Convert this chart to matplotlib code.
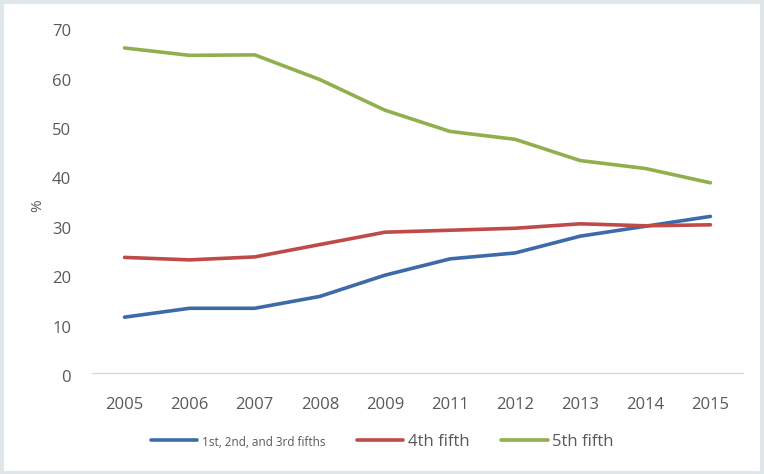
import matplotlib
matplotlib.use("Agg")
import matplotlib.pyplot as plt
import matplotlib.transforms as mtransforms
from matplotlib.patches import Rectangle

years = ["2005", "2006", "2007", "2008", "2009", "2011", "2012", "2013", "2014", "2015"]
lower_three = [11.3, 13.1, 13.1, 15.5, 19.8, 23.1, 24.3, 27.7, 29.7, 31.7]
fourth = [23.4, 22.9, 23.5, 26.0, 28.5, 28.9, 29.3, 30.2, 29.8, 30.0]
fifth = [65.8, 64.3, 64.4, 59.4, 53.2, 48.9, 47.3, 43.0, 41.4, 38.5]

series_names = ["1st, 2nd, and 3rd fifths", "4th fifth", "5th fifth"]
colors = ["#3d6aa8", "#be4b48", "#8fb04c"]
yticks = [0, 10, 20, 30, 40, 50, 60, 70]

plt.rcParams["font.family"] = ["Open Sans", "DejaVu Sans"]
text_color = "#595959"

fig = plt.figure(figsize=(7.64, 4.74), dpi=100)
ax = fig.add_axes([0.1204, 0.2131, 0.8521, 0.7295])

x = range(len(years))
for vals, name, col in zip([lower_three, fourth, fifth], series_names, colors):
    ax.plot(x, vals, color=col, lw=2.6, label=name, solid_capstyle="round",
            solid_joinstyle="round")

ax.set_xlim(-0.5, len(years) - 0.5)
ax.set_ylim(0, 70)
ax.set_xticks(list(x))
ax.set_xticklabels(years)
ax.set_yticks(yticks)
ax.set_yticklabels([str(v) for v in yticks])
ax.tick_params(axis="both", length=0, colors=text_color, labelsize=12)
ax.tick_params(axis="y", pad=15)
ax.tick_params(axis="x", pad=17)

# nudge the value labels slightly below their gridline positions
shift = mtransforms.ScaledTranslation(0, -3 / 100, fig.dpi_scale_trans)
for lbl in ax.get_yticklabels():
    lbl.set_transform(lbl.get_transform() + shift)

for side in ["top", "right", "left"]:
    ax.spines[side].set_visible(False)
ax.spines["bottom"].set_color("#d9d9d9")
ax.spines["bottom"].set_linewidth(1.0)

fig.text(0.05, 0.567, "%", rotation=90, ha="center", va="center",
         color=text_color, fontsize=11)

leg = fig.legend(loc="center", bbox_to_anchor=(0.5, 0.068), ncol=3,
                 frameon=False, fontsize=12, handlelength=2.8,
                 handletextpad=0.25, columnspacing=1.9)
for t in leg.get_texts():
    t.set_color(text_color)
leg.get_texts()[0].set_fontsize(8.5)

# pale frame round the whole chart
fig.patches.append(Rectangle((0.002, 0.003), 0.996, 0.992, transform=fig.transFigure,
                             fill=False, edgecolor="#dfe7eb", linewidth=3))

fig.savefig("out.png", dpi=100)
